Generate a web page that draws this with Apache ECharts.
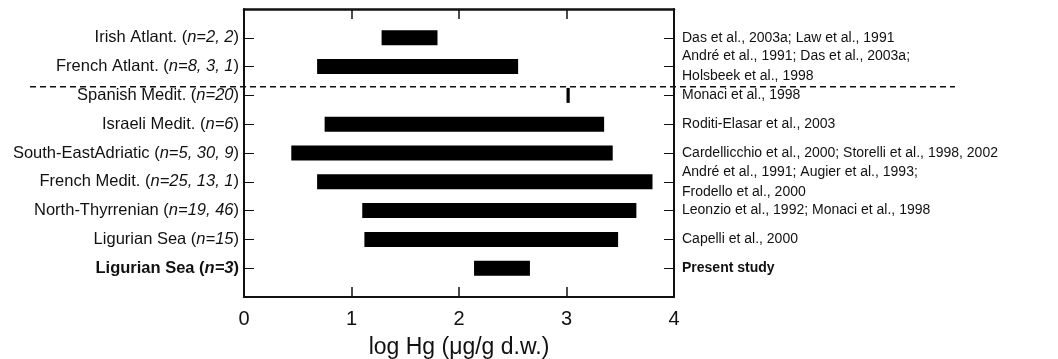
<!DOCTYPE html>
<html>
<head>
<meta charset="utf-8">
<script src="https://cdn.jsdelivr.net/npm/echarts@6/dist/echarts.min.js"></script>
<style>
  html, body { margin: 0; padding: 0; background: #fff; }
  #main { width: 1058px; height: 359px; }
</style>
</head>
<body>
<div id="main"></div>
<script>
// regions, sample sizes and references (top to bottom)
var regions = ['Irish Atlant.', 'French Atlant.', 'Spanish Medit.', 'Israeli Medit.',
  'South-EastAdriatic', 'French Medit.', 'North-Thyrrenian', 'Ligurian Sea', 'Ligurian Sea'];
var sampleSizes = ['2, 2', '8, 3, 1', '20', '6', '5, 30, 9', '25, 13, 1', '19, 46', '15', '3'];
var references = [
  'Das et al., 2003a; Law et al., 1991',
  'André et al., 1991; Das et al., 2003a;\nHolsbeek et al., 1998',
  'Monaci et al., 1998',
  'Roditi-Elasar et al., 2003',
  'Cardellicchio et al., 2000; Storelli et al., 1998, 2002',
  'André et al., 1991; Augier et al., 1993;\nFrodello et al., 2000',
  'Leonzio et al., 1992; Monaci et al., 1998',
  'Capelli et al., 2000',
  'Present study'
];
// log Hg range (µg/g d.w.)
var minHg = [1.28, 0.68, 3.00, 0.75, 0.44, 0.68, 1.10, 1.12, 2.14];
var maxHg = [1.80, 2.55, 3.03, 3.35, 3.43, 3.80, 3.65, 3.48, 2.66];
var xTicks = [0, 1, 2, 3, 4];
var presentIdx = 8;

var font = '"Liberation Sans", Arial, Helvetica, sans-serif';

var rangeData = regions.map(function (r, i) {
  return [minHg[i], maxHg[i], i + 1];
});

var chart = echarts.init(document.getElementById('main'));

var option = {
  animation: false,
  textStyle: { fontFamily: font, color: '#111' },
  grid: { left: 244, right: 384, top: 9, bottom: 62, outerBoundsMode: 'none', containLabel: false },
  xAxis: [{
    type: 'value',
    position: 'bottom',
    min: xTicks[0], max: xTicks[xTicks.length - 1], interval: 1,
    splitLine: { show: false },
    axisLine: { onZero: false, lineStyle: { color: '#111', width: 2 } },
    axisTick: { inside: true, length: 10, lineStyle: { color: '#111', width: 1.5 } },
    axisLabel: { fontSize: 20, color: '#111', margin: 12, fontFamily: font },
    name: 'log Hg (\u03bcg/g d.w.)',
    nameLocation: 'middle',
    nameGap: 39,
    nameTextStyle: { fontSize: 23, color: '#111', fontFamily: font }
  }, {
    type: 'value',
    position: 'top',
    min: 0, max: 4, interval: 1,
    splitLine: { show: false },
    axisLine: { onZero: false, lineStyle: { color: '#111', width: 2.5 } },
    axisTick: { inside: true, length: 10, lineStyle: { color: '#111', width: 1.5 } },
    axisLabel: { show: false }
  }],
  yAxis: [{
    type: 'value',
    position: 'left',
    inverse: true,
    min: 0, max: regions.length + 1, interval: 1,
    splitLine: { show: false },
    axisLine: { onZero: false, lineStyle: { color: '#111', width: 2 } },
    axisTick: { inside: true, length: 10, lineStyle: { color: '#111', width: 1 } },
    axisLabel: {
      margin: 5,
      formatter: function (v) {
        var i = v - 1;
        if (i < 0 || i >= regions.length) return '';
        if (i === presentIdx) {
          return '{b|' + regions[i] + ' (}{bi|n=' + sampleSizes[i] + '}{b|)}';
        }
        return '{a|' + regions[i] + ' (}{i|n=' + sampleSizes[i] + '}{a|)}';
      },
      rich: {
        a: { fontSize: 16.5, color: '#111', fontFamily: font },
        i: { fontSize: 16.5, color: '#111', fontStyle: 'italic', fontFamily: font },
        b: { fontSize: 16.5, color: '#111', fontWeight: 'bold', fontFamily: font },
        bi: { fontSize: 16.5, color: '#111', fontWeight: 'bold', fontStyle: 'italic', fontFamily: font }
      }
    }
  }, {
    type: 'value',
    position: 'right',
    inverse: true,
    min: 0, max: regions.length + 1, interval: 1,
    splitLine: { show: false },
    axisLine: { onZero: false, lineStyle: { color: '#111', width: 2 } },
    axisTick: { inside: true, length: 10, lineStyle: { color: '#111', width: 1 } },
    axisLabel: {
      margin: 8,
      align: 'left',
      formatter: function (v) {
        var i = v - 1;
        if (i < 0 || i >= references.length) return '';
        if (i === presentIdx) return '{b|' + references[i] + '}';
        return '{a|' + references[i].split('\n').join('}\n{a|') + '}';
      },
      rich: {
        a: { fontSize: 14, lineHeight: 20, color: '#111', fontFamily: font },
        b: { fontSize: 14, lineHeight: 20, color: '#111', fontWeight: 'bold', fontFamily: font }
      }
    }
  }],
  series: [{
    type: 'custom',
    xAxisIndex: 0,
    yAxisIndex: 0,
    encode: { x: [0, 1], y: 2 },
    data: rangeData,
    renderItem: function (params, api) {
      var start = api.coord([api.value(0), api.value(2)]);
      var end = api.coord([api.value(1), api.value(2)]);
      var h = 15;
      return {
        type: 'rect',
        shape: { x: start[0], y: start[1] - h / 2, width: end[0] - start[0], height: h },
        style: { fill: '#000' }
      };
    }
  }]
};

chart.setOption(option);

// dashed separator between Atlantic and Mediterranean groups
var sepY = chart.convertToPixel({ yAxisIndex: 0 }, 2.7);
chart.setOption({
  graphic: [{
    type: 'line',
    silent: true,
    shape: { x1: 30, y1: sepY, x2: 955, y2: sepY },
    style: { stroke: '#111', lineWidth: 1.5, lineDash: [6, 4] },
    z: 10
  }]
});
</script>
</body>
</html>
